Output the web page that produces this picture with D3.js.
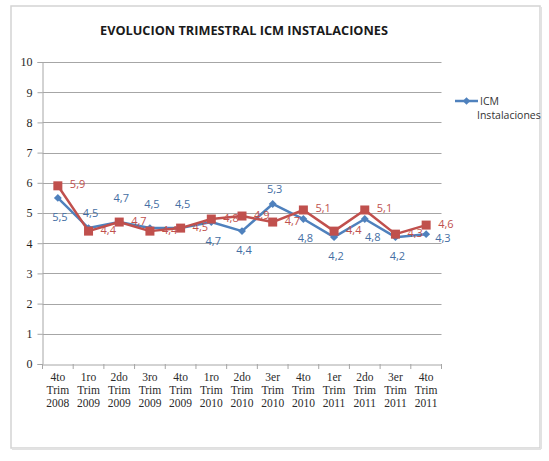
<!DOCTYPE html>
<html><head><meta charset="utf-8">
<script src="https://cdn.jsdelivr.net/npm/d3@7"></script>
<style>body{margin:0;background:#fff;}svg{display:block;}</style>
</head><body>
<svg id="c" width="549" height="461"></svg>
<script>
const categories = [
  ["4to","Trim","2008"],["1ro","Trim","2009"],["2do","Trim","2009"],["3ro","Trim","2009"],
  ["4to","Trim","2009"],["1ro","Trim","2010"],["2do","Trim","2010"],["3er","Trim","2010"],
  ["4to","Trim","2010"],["1er","Trim","2011"],["2do","Trim","2011"],["3er","Trim","2011"],
  ["4to","Trim","2011"]
];
const icmValues = [5.5,4.5,4.7,4.5,4.5,4.7,4.4,5.3,4.8,4.2,4.8,4.2,4.3];
const secondValues = [5.9,4.4,4.7,4.4,4.5,4.8,4.9,4.7,5.1,4.4,5.1,4.3,4.6];
const yTicks = [0,1,2,3,4,5,6,7,8,9,10];
const icmLabelPlacement = ["below","above","high","high","high","below","below","above","below","below","belowRight","below","right"];
const seriesName = "ICM Instalaciones";
const title = "EVOLUCION TRIMESTRAL ICM INSTALACIONES";

(function(){
const svg = d3.select("#c");
const blue = "#4f81bd", red = "#c0504d";
const blueText = "#446ea3", redText = "#c0504d";

// frame
svg.append("rect").attr("x",11).attr("y",6).attr("width",529).attr("height",442)
  .attr("fill","#fff").attr("stroke","#d4d4d4").attr("stroke-width",1.5);
svg.append("line").attr("x1",541).attr("x2",541).attr("y1",7).attr("y2",449).attr("stroke","#e2e2e2").attr("stroke-width",2);
svg.append("line").attr("x1",12).attr("x2",541).attr("y1",449).attr("y2",449).attr("stroke","#e2e2e2").attr("stroke-width",2);

svg.append("text").attr("x",244).attr("y",35).attr("text-anchor","middle")
  .attr("font-family","Open Sans").attr("font-weight","bold").attr("font-size",12.5)
  .attr("fill","#1a1a1a").attr("textLength",288).attr("lengthAdjust","spacingAndGlyphs").text(title);

const pl = 42.5, pr = 441.5, pt = 62, pb = 364;
const x = d3.scaleBand().domain(d3.range(categories.length)).range([pl,pr]);
const y = d3.scaleLinear().domain([0,10]).range([pb,pt]);
const cx = i => x(i) + x.bandwidth()/2;

// grid
svg.append("g").selectAll("line").data(yTicks.filter(d=>d>0)).join("line")
  .attr("x1",pl).attr("x2",pr).attr("y1",d=>Math.round(y(d))+0.5).attr("y2",d=>Math.round(y(d))+0.5)
  .attr("stroke","#a6a6a6").attr("stroke-width",1);

// y axis
const yAxis = svg.append("g").attr("transform",`translate(${pl},0)`)
  .call(d3.axisLeft(y).tickValues(yTicks).tickSize(5).tickPadding(5).tickFormat(d3.format("d")));
yAxis.select(".domain").attr("stroke","#a6a6a6");
yAxis.selectAll(".tick line").attr("stroke","#a6a6a6");
yAxis.selectAll(".tick text").attr("font-family","Liberation Serif").attr("font-size",12)
  .attr("fill","#1f1f1f");

// x axis
const xAxis = svg.append("g").attr("transform",`translate(0,${Math.round(pb)+0.5})`)
  .call(d3.axisBottom(x).tickSize(0).tickFormat(""));
xAxis.select(".domain").attr("stroke","#a6a6a6");
svg.append("g").selectAll("line").data(d3.range(categories.length+1)).join("line")
  .attr("x1",i=>pl + i*x.step()).attr("x2",i=>pl + i*x.step())
  .attr("y1",pb).attr("y2",pb+5).attr("stroke","#a6a6a6");
const xl = svg.append("g");
categories.forEach((c,i)=>{
  const t = xl.append("text").attr("x",cx(i)).attr("y",381).attr("text-anchor","middle")
    .attr("font-family","Liberation Serif").attr("font-size",11.5).attr("fill","#2a2a2a");
  c.forEach((s,k)=>t.append("tspan").attr("x",cx(i)).attr("dy",k===0?0:13).text(s));
});

const line = d3.line().x((d,i)=>cx(i)).y(d=>y(d));

// blue series
svg.append("path").datum(icmValues).attr("d",line).attr("fill","none").attr("stroke",blue).attr("stroke-width",2.5).attr("stroke-linejoin","round");
svg.append("g").selectAll("path").data(icmValues).join("path")
  .attr("d",d3.symbol(d3.symbolDiamond2,40)).attr("transform",(d,i)=>`translate(${cx(i)},${y(d)})`).attr("fill",blue);

// red series
svg.append("path").datum(secondValues).attr("d",line).attr("fill","none").attr("stroke",red).attr("stroke-width",2.5).attr("stroke-linejoin","round");
svg.append("g").selectAll("rect").data(secondValues).join("rect")
  .attr("x",(d,i)=>cx(i)-4.5).attr("y",d=>y(d)-4.5).attr("width",9).attr("height",9).attr("fill",red);

const fmt = v => String(v.toFixed(1)).replace(".",",");
const dyFor = {above:-11, high:-20, below:23, belowRight:22, right:8};
const dxFor = {above:2, high:2, below:2, belowRight:8, right:9};
// labels
svg.append("g").selectAll("text").data(secondValues).join("text")
  .attr("x",(d,i)=>cx(i)+12).attr("y",d=>y(d)+2.5).attr("font-family","Open Sans").attr("font-size",11)
  .attr("fill",redText).text(fmt);
svg.append("g").selectAll("text").data(icmValues).join("text")
  .attr("x",(d,i)=>cx(i)+dxFor[icmLabelPlacement[i]])
  .attr("y",(d,i)=>y(d)+dyFor[icmLabelPlacement[i]])
  .attr("text-anchor",(d,i)=>icmLabelPlacement[i]==="right"?"start":"middle")
  .attr("font-family","Open Sans").attr("font-size",11).attr("fill",blueText).text(fmt);

// legend
const lg = svg.append("g");
lg.append("line").attr("x1",455).attr("x2",478).attr("y1",101).attr("y2",101).attr("stroke",blue).attr("stroke-width",2.5);
lg.append("path").attr("d",d3.symbol(d3.symbolDiamond2,36)).attr("transform","translate(466.5,101)").attr("fill",blue);
lg.append("text").attr("x",480).attr("y",105).attr("font-family","Open Sans").attr("font-size",10.5).attr("fill","#333").text("ICM");
lg.append("text").attr("x",477).attr("y",119).attr("font-family","Open Sans").attr("font-size",10.5).attr("fill","#333").text(seriesName.split(" ")[1]);
})();
</script>
</body></html>
